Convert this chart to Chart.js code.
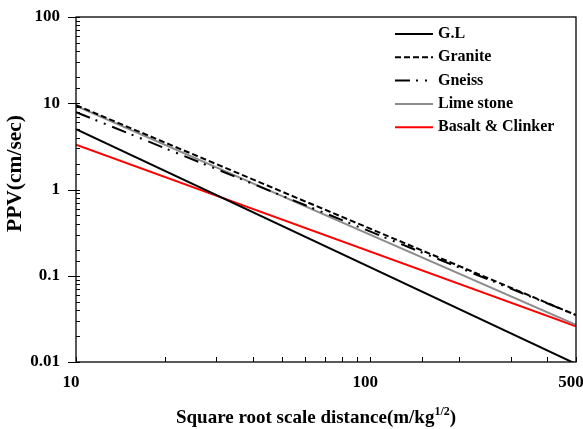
<!DOCTYPE html>
<html>
<head>
<meta charset="utf-8">
<script src="https://cdn.jsdelivr.net/npm/chart.js@4.4.1/dist/chart.umd.min.js"></script>
<style>
  body { margin: 0; background: #fff; }
  canvas { display: block; }
</style>
</head>
<body>
<canvas id="ppvChart" width="583" height="429"></canvas>
<script>
// --- values (straight lines on log-log axes) ---
const distances = [10, 500];
const seriesNames = ['G.L', 'Granite', 'Gneiss', 'Lime stone', 'Basalt & Clinker'];
const glValues = [5.0, 0.0095];
const graniteValues = [9.5, 0.035];
const gneissValues = [7.9, 0.035];
const limestoneValues = [9.3, 0.027];
const basaltValues = [3.3, 0.026];
const xTickLabels = [10, 100, 500];
const yTickLabels = [0.01, 0.1, 1, 10, 100];

const SERIF = '"Liberation Serif", "Times New Roman", serif';

function toPoints(values) {
    return distances.map((d, i) => ({ x: d, y: values[i] }));
}

function isLabelled(list, v) {
    return list.some(l => Math.abs(l - v) / l < 1e-6);
}

// box around the plot + inward tick marks
const frame = {
    id: 'frame',
    afterDraw(chart) {
        const { ctx, chartArea: a, scales: { x, y } } = chart;
        ctx.save();
        ctx.strokeStyle = '#000';
        ctx.lineWidth = 1;
        y.ticks.forEach(t => {
            const py = Math.round(y.getPixelForValue(t.value)) + 0.5;
            const lg = Math.log10(t.value);
            const major = Math.abs(lg - Math.round(lg)) < 1e-6;
            ctx.beginPath();
            ctx.moveTo(a.left - (major ? 8 : 0), py);
            ctx.lineTo(a.left + 4, py);
            ctx.stroke();
        });
        x.ticks.forEach(t => {
            const px = Math.round(x.getPixelForValue(t.value)) + 0.5;
            ctx.beginPath();
            ctx.moveTo(px, a.bottom);
            ctx.lineTo(px, a.bottom - 5);
            ctx.stroke();
        });
        ctx.lineWidth = 1.3;
        ctx.strokeRect(a.left, a.top, a.right - a.left, a.bottom - a.top);
        ctx.restore();
    }
};

// legend in the upper right corner of the plot
const legendBox = {
    id: 'legendBox',
    afterDraw(chart) {
        const { ctx, chartArea: a } = chart;
        ctx.save();
        ctx.font = 'bold 16px ' + SERIF;
        ctx.textBaseline = 'middle';
        ctx.fillStyle = '#000';
        chart.data.datasets.forEach((ds, i) => {
            const cy = a.top + 17 + i * 23.3;
            const x0 = a.right - 181;
            ctx.strokeStyle = ds.borderColor;
            ctx.lineWidth = ds.borderWidth;
            ctx.setLineDash(ds.borderDash || []);
            ctx.beginPath();
            ctx.moveTo(x0, cy);
            ctx.lineTo(x0 + 38, cy);
            ctx.stroke();
            ctx.setLineDash([]);
            ctx.fillText(ds.label, x0 + 43, cy);
        });
        ctx.restore();
    }
};

// axis titles (x title has a superscript 1/2)
const axisTitles = {
    id: 'axisTitles',
    afterDraw(chart) {
        const { ctx, chartArea: a } = chart;
        ctx.save();
        ctx.fillStyle = '#000';
        ctx.textBaseline = 'alphabetic';

        const main = 'Square root scale distance(m/kg';
        const sup = '1/2';
        const close = ')';
        const big = 'bold 19px ' + SERIF;
        const small = 'bold 12px ' + SERIF;
        ctx.font = big;
        const w1 = ctx.measureText(main).width;
        const w3 = ctx.measureText(close).width;
        ctx.font = small;
        const w2 = ctx.measureText(sup).width;
        const total = w1 + w2 + w3;
        let tx = (a.left + a.right) / 2 - 10 - total / 2;
        const base = 423;
        ctx.font = big;
        ctx.fillText(main, tx, base);
        ctx.font = small;
        ctx.fillText(sup, tx + w1, base - 8);
        ctx.font = big;
        ctx.fillText(close, tx + w1 + w2, base);

        ctx.translate(15, (a.top + a.bottom) / 2 - 16);
        ctx.rotate(-Math.PI / 2);
        ctx.font = 'bold 21.5px ' + SERIF;
        ctx.textAlign = 'center';
        ctx.textBaseline = 'middle';
        ctx.fillText('PPV(cm/sec)', 0, 0);
        ctx.restore();
    }
};

Chart.defaults.color = '#000';
Chart.defaults.font.family = SERIF;

const ctx = document.getElementById('ppvChart').getContext('2d');
new Chart(ctx, {
    type: 'line',
    data: {
        datasets: [
            { label: seriesNames[0], data: toPoints(glValues), borderColor: '#000000', borderWidth: 2 },
            { label: seriesNames[1], data: toPoints(graniteValues), borderColor: '#000000', borderWidth: 2, borderDash: [6, 3] },
            { label: seriesNames[2], data: toPoints(gneissValues), borderColor: '#000000', borderWidth: 2, borderDash: [15, 6, 2, 7, 2, 7] },
            { label: seriesNames[3], data: toPoints(limestoneValues), borderColor: '#8c8c8c', borderWidth: 2 },
            { label: seriesNames[4], data: toPoints(basaltValues), borderColor: '#ff0000', borderWidth: 2 }
        ]
    },
    options: {
        responsive: false,
        animation: false,
        layout: { padding: { top: 17, right: 7, left: 0, bottom: 0 } },
        elements: { point: { radius: 0 }, line: { tension: 0 } },
        plugins: { legend: { display: false }, tooltip: { enabled: false } },
        scales: {
            x: {
                type: 'logarithmic',
                min: 10,
                max: 500,
                grid: { display: false, drawTicks: false },
                border: { display: false },
                ticks: {
                    autoSkip: false,
                    maxRotation: 0,
                    padding: 10,
                    labelOffset: -5,
                    font: { size: 17, weight: 'bold' },
                    callback: v => isLabelled(xTickLabels, v) ? String(v) : ''
                },
                afterFit(scale) {
                    scale.height = 67;
                    scale.paddingLeft = 0;
                    scale.paddingRight = 0;
                }
            },
            y: {
                type: 'logarithmic',
                min: 0.01,
                max: 100,
                grid: { display: false, drawTicks: false },
                border: { display: false },
                ticks: {
                    autoSkip: false,
                    padding: 16,
                    font: { size: 17, weight: 'bold' },
                    callback: v => isLabelled(yTickLabels, v) ? String(yTickLabels.find(l => Math.abs(l - v) / l < 1e-6)) : ''
                },
                afterFit(scale) {
                    scale.width = 76;
                    scale.paddingTop = 0;
                    scale.paddingBottom = 0;
                }
            }
        }
    },
    plugins: [frame, legendBox, axisTitles]
});
</script>
</body>
</html>
